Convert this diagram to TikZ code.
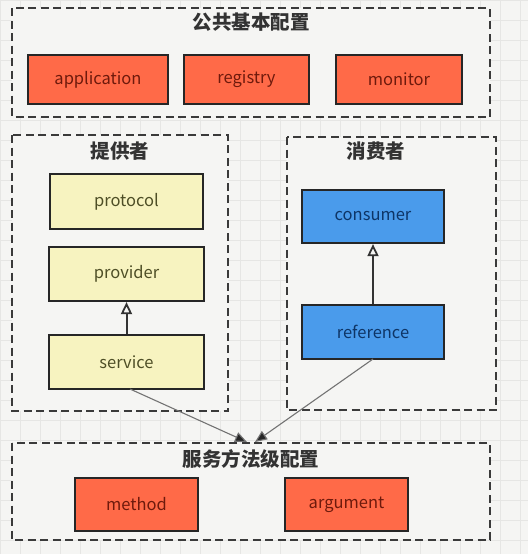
\documentclass[tikz,border=0pt]{standalone}
\usepackage{fontspec}
\setmainfont{Noto Sans CJK SC}
\usetikzlibrary{arrows.meta}
\definecolor{bgc}{HTML}{F5F5F3}
\definecolor{gridc}{HTML}{E6E6E4}
\definecolor{redf}{HTML}{FF6A48}
\definecolor{redt}{HTML}{6E1A0C}
\definecolor{yelf}{HTML}{F7F3C0}
\definecolor{yelt}{HTML}{4E4E26}
\definecolor{bluf}{HTML}{4A9BEB}
\definecolor{blut}{HTML}{0E3566}
\definecolor{dashc}{HTML}{3A3A3A}
\begin{document}
\begin{tikzpicture}[x=1pt,y=-1pt,
  grp/.style={draw=dashc, line width=2.2pt, dash pattern=on 8pt off 4.5pt, fill=bgc},
  gtitle/.style={font=\fontsize{19.5}{22}\selectfont\bfseries, text=black!80, anchor=center},
  box/.style={draw=black!85, line width=2.2pt, font=\fontsize{16.5}{18}\selectfont, inner sep=0pt},
  redbox/.style={box, fill=redf, text=redt},
  yelbox/.style={box, fill=yelf, text=yelt},
  blubox/.style={box, fill=bluf, text=blut},
  inh/.style={draw=black!80, line width=2pt, -{Triangle[open, length=12pt, width=11pt, line width=1.8pt]}},
  dep/.style={draw=black!55, line width=1.1pt, -{Triangle[length=12pt, width=10pt, fill=black!85]}}
]
\useasboundingbox (0,0) rectangle (528,554);
\fill[bgc] (0,0) rectangle (528,554);
\draw[gridc, line width=0.6pt] (0,0) grid[step=20pt] (528,554);

% groups
\draw[grp] (12,8) rectangle (490,117);
\node[gtitle] (t1) at (251,22) {公共基本配置};
\draw[grp] (12,135) rectangle (228,411);
\node[gtitle] (t2) at (120,151) {提供者};
\draw[grp] (287,137) rectangle (496,410);
\node[gtitle] (t3) at (376,151) {消费者};
\draw[grp] (12,443) rectangle (490,540);
\node[gtitle] (t4) at (251,459) {服务方法级配置};

% boxes
\node[redbox, minimum width=140pt, minimum height=49pt] (app) at (98,79.5) {application};
\node[redbox, minimum width=125pt, minimum height=49pt] (reg) at (246.5,79.5) {registry};
\node[redbox, minimum width=126pt, minimum height=49pt] (mon) at (399,79.5) {monitor};

\node[yelbox, minimum width=153pt, minimum height=55pt] (proto) at (126.5,201.5) {protocol};
\node[yelbox, minimum width=155pt, minimum height=54pt] (prov) at (126.5,274) {provider};
\node[yelbox, minimum width=155pt, minimum height=54pt] (serv) at (126.5,362) {service};

\node[blubox, minimum width=142pt, minimum height=53pt] (cons) at (373,216.5) {consumer};
\node[blubox, minimum width=142pt, minimum height=54pt] (ref) at (373,332) {reference};

\node[redbox, minimum width=123pt, minimum height=53pt] (meth) at (136.5,504.5) {method};
\node[redbox, minimum width=123pt, minimum height=53pt] (arg) at (346.5,504.5) {argument};

\coordinate (m1) at (247,442);
\coordinate (m2) at (255,442);
\coordinate (s1) at (130,389);
\coordinate (r1) at (373,359);

% connectors
\draw[inh] (serv.north) -- (prov.south);
\draw[inh] (ref.north) -- (cons.south);
\draw[dep] (s1) -- (m1);
\draw[dep] (r1) -- (m2);
\end{tikzpicture}
\end{document}
